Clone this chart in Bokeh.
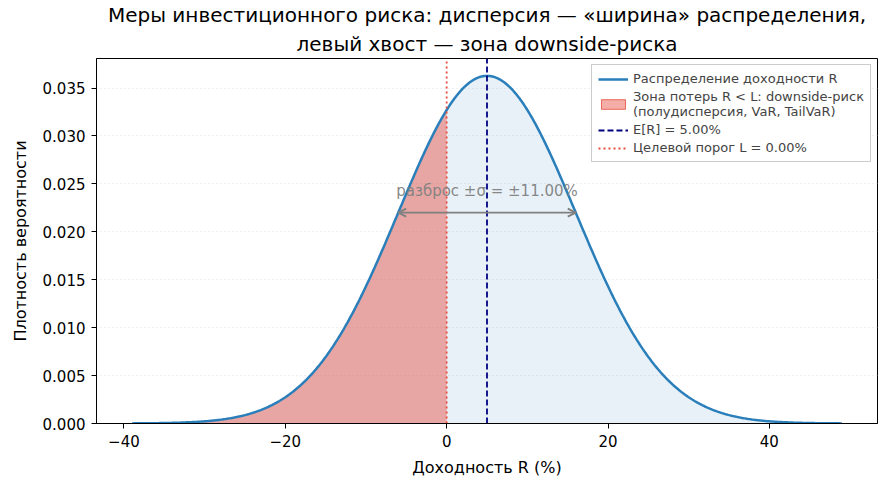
import numpy as np
from bokeh.plotting import figure
from bokeh.models import (ColumnDataSource, Range1d, FixedTicker, CustomJSTickFormatter,
                          Arrow, OpenHead, Label, Legend, LegendItem, Title)
from bokeh.embed import file_html
from bokeh.resources import INLINE

# Return distribution parameters (percent)
MU = 5.0          # expected return E[R]
SIGMA = 11.0      # standard deviation
TARGET = 0.0      # target threshold L
N_SIGMA = 4.0     # plotted span: mean +/- 4 sigma

x_ticks = [-40, -20, 0, 20, 40]
y_ticks = [0.000, 0.005, 0.010, 0.015, 0.020, 0.025, 0.030, 0.035]

title_lines = ["Меры инвестиционного риска: дисперсия — «ширина» распределения,",
               "левый хвост — зона downside-риска"]

FONT = "DejaVu Sans"


def normal_pdf(v):
    return np.exp(-0.5 * ((v - MU) / SIGMA) ** 2) / (SIGMA * np.sqrt(2 * np.pi))


# Normal density of returns
x = np.linspace(MU - N_SIGMA * SIGMA, MU + N_SIGMA * SIGMA, 600)
pdf = normal_pdf(x)
peak = pdf.max()

src = ColumnDataSource(dict(x=x, y=pdf, z=np.zeros_like(x)))
loss = x <= TARGET
x_loss = np.append(x[loss], TARGET)
y_loss = np.append(pdf[loss], normal_pdf(TARGET))
src_loss = ColumnDataSource(dict(x=x_loss, y=y_loss, z=np.zeros_like(x_loss)))

span = x.max() - x.min()
x_rng = Range1d(x.min() - 0.05 * span, x.max() + 0.05 * span)
y_top = peak * 1.05
y_rng = Range1d(0, y_top)

p = figure(frame_width=781, frame_height=365, output_backend="svg", toolbar_location=None,
           x_range=x_rng, y_range=y_rng, title=None)
p.min_border_left = 96
p.min_border_right = 12
p.min_border_top = 58
p.min_border_bottom = 66

# two centred title lines (later-added line sits higher)
for line, gap in zip(reversed(title_lines), (6, 0)):
    p.add_layout(Title(text=line, align="center", text_font=FONT, text_font_size="20px",
                       text_font_style="normal", text_color="black", standoff=gap,
                       offset=0, text_line_height=0.85), "above")

p.background_fill_color = "white"
p.border_fill_color = "white"
p.outline_line_color = "black"
p.outline_line_width = 1

for ax in (p.xaxis[0], p.yaxis[0]):
    ax.axis_line_color = "black"
    ax.major_tick_line_color = "black"
    ax.major_tick_out = 5
    ax.major_tick_in = 0
    ax.major_label_standoff = 6
    ax.minor_tick_line_color = None
    ax.major_label_text_font = FONT
    ax.major_label_text_font_size = "15px"
    ax.major_label_text_color = "black"
    ax.axis_label_text_font = FONT
    ax.axis_label_text_font_size = "16px"
    ax.axis_label_text_font_style = "normal"
    ax.axis_label_text_color = "black"

p.xaxis.axis_label = "Доходность R (%)"
p.yaxis.axis_label = "Плотность вероятности"
p.xaxis.axis_label_standoff = 8
p.yaxis.axis_label_standoff = 10
p.xaxis.ticker = FixedTicker(ticks=x_ticks)
p.yaxis.ticker = FixedTicker(ticks=y_ticks)
p.xaxis.formatter = CustomJSTickFormatter(code="return tick < 0 ? '\u2212' + Math.abs(tick) : String(tick);")
p.yaxis.formatter = CustomJSTickFormatter(code="return tick.toFixed(3);")

p.xgrid.grid_line_color = None
p.ygrid.grid_line_color = "#d9d9d9"
p.ygrid.grid_line_dash = "1 3"
p.ygrid.grid_line_width = 0.8

# whole distribution, faint fill
p.varea(x="x", y1="z", y2="y", source=src, fill_color="#1f77b4", fill_alpha=0.1)
# loss zone
p.varea(x="x", y1="z", y2="y", source=src_loss, fill_color="#e74c3c", fill_alpha=0.45)
r_loss_leg = p.rect(x=[0], y=[0], width=0, height=0, fill_color="#e74c3c", fill_alpha=0.45,
                    line_color="#e74c3c", line_alpha=0.8)

r_curve = p.line(x="x", y="y", source=src, line_color="#2a7fba", line_width=2.5)

r_mean = p.segment(x0=[MU], y0=[0], x1=[MU], y1=[y_top], line_color="#000080",
                   line_width=1.8, line_dash="6 3")
r_target = p.segment(x0=[TARGET], y0=[0], x1=[TARGET], y1=[y_top], line_color="#e74c3c",
                     line_width=1.8, line_dash="2 3")

# +/- sigma spread arrow
arrow_y = 0.022
p.add_layout(Arrow(x_start=MU - SIGMA, y_start=arrow_y, x_end=MU + SIGMA, y_end=arrow_y,
                   line_color="#808080", line_width=1.8,
                   start=OpenHead(size=8, line_color="#808080", line_width=1.8),
                   end=OpenHead(size=8, line_color="#808080", line_width=1.8)))
p.add_layout(Label(x=MU, y=0.0233, text=f"разброс ±σ = ±{SIGMA:.2f}%", text_align="center",
                   text_baseline="bottom", text_font=FONT, text_font_size="15px",
                   text_color="#808080", text_alpha=0.95))

legend = Legend(items=[
    LegendItem(label="Распределение доходности R", renderers=[r_curve]),
    LegendItem(label="Зона потерь R < L: downside-риск\n(полудисперсия, VaR, TailVaR)", renderers=[r_loss_leg]),
    LegendItem(label=f"E[R] = {MU:.2f}%", renderers=[r_mean]),
    LegendItem(label=f"Целевой порог L = {TARGET:.2f}%", renderers=[r_target]),
], location="top_right")
legend.label_text_font = FONT
legend.label_text_font_size = "13px"
legend.label_height = 15
legend.label_text_line_height = 1.0
legend.glyph_width = 30
legend.glyph_height = 12
legend.spacing = 3
legend.padding = 6
legend.margin = 6
legend.border_line_color = "#cccccc"
legend.border_line_alpha = 1
legend.background_fill_alpha = 0.85
p.add_layout(legend)

open("out.html", "w").write(file_html(p, INLINE))
